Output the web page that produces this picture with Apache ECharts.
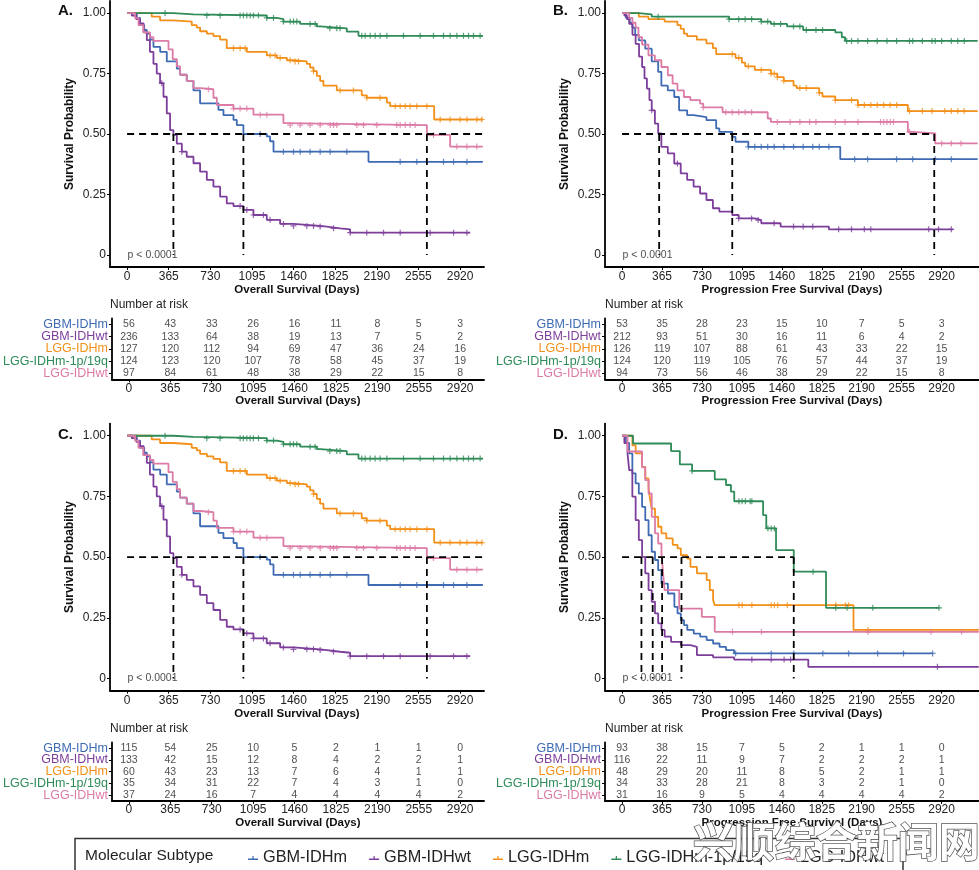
<!DOCTYPE html>
<html><head><meta charset="utf-8">
<script src="https://cdn.jsdelivr.net/npm/echarts@6/dist/echarts.min.js"></script>
<style>html,body{margin:0;padding:0;background:#fff}#c{width:979px;height:870px}</style>
</head><body><div id="c"></div>
<script>
// ---------- categories / ticks ----------
const groups = ['GBM-IDHm','GBM-IDHwt','LGG-IDHm','LGG-IDHm-1p/19q','LGG-IDHwt'];
const colors = ['#3E6BB3','#7D3E9B','#F39019','#2F8B58','#DC7BA6'];
const dayTicks = [0,365,730,1095,1460,1825,2190,2555,2920];
const probTicks = [0,0.25,0.5,0.75,1];

// ---------- Panel A (overall survival) : [day, survival] steps ----------
const A_gbmM = [[0,1],[85,0.98],[114,0.95],[150,0.93],[173,0.915],[202,0.89],[231,0.86],[290,0.84],[348,0.80],[436,0.77],[465,0.745],[523,0.72],[582,0.68],[640,0.627],[801,0.60],[845,0.578],[933,0.558],[962,0.537],[1020,0.50],[1225,0.49],[1254,0.47],[1284,0.427],[2117,0.385],[3120,0.385]];
const A_gbmWT = [[0,1],[41,0.99],[80,0.975],[114,0.957],[145,0.92],[173,0.888],[200,0.84],[231,0.79],[260,0.75],[289,0.71],[319,0.654],[348,0.585],[377,0.516],[406,0.496],[436,0.46],[480,0.427],[523,0.406],[582,0.379],[640,0.344],[699,0.31],[757,0.282],[816,0.241],[874,0.213],[933,0.202],[1020,0.186],[1108,0.165],[1225,0.145],[1342,0.128],[1459,0.12],[1693,0.117],[1751,0.11],[1868,0.106],[1956,0.092],[3009,0.092]];
const A_lggM = [[0,1],[216,0.985],[289,0.97],[406,0.965],[567,0.95],[611,0.94],[640,0.925],[700,0.915],[757,0.905],[816,0.89],[874,0.855],[1050,0.84],[1225,0.825],[1313,0.815],[1401,0.805],[1459,0.80],[1576,0.79],[1605,0.775],[1635,0.76],[1664,0.74],[1693,0.72],[1722,0.70],[1839,0.68],[2058,0.66],[2102,0.65],[2278,0.63],[2307,0.615],[2693,0.56],[3120,0.56]];
const A_lggCod = [[0,1],[406,0.995],[582,0.99],[1225,0.98],[1313,0.975],[1371,0.965],[1518,0.955],[1664,0.945],[1693,0.937],[1927,0.923],[2029,0.906],[3120,0.906]];
const A_lggWT = [[0,1],[70,0.98],[100,0.95],[143,0.92],[200,0.9],[231,0.885],[363,0.85],[400,0.81],[436,0.78],[465,0.745],[523,0.72],[582,0.69],[640,0.685],[757,0.65],[787,0.62],[933,0.605],[1108,0.58],[1371,0.545],[1401,0.537],[2629,0.496],[2833,0.448],[3120,0.448]];
// censor times
const A_gbmM_c = [1167,1371,1459,1518,1605,1693,1781,1927,2395,2541,2775,2863,2980];
const A_gbmWT_c = [304,480,991,1050,1108,1196,1254,1371,1459,1576,1635,1693,1810,1956,2102,2249,2395,2658,2863,2980];
const A_lggM_c = [933,991,1035,1254,1298,1342,1430,1474,1503,1635,1868,1985,2102,2219,2351,2395,2439,2482,2541,2629,2746,2833,2921,2980,3067,3111];
const A_lggCod_c = [333,699,816,991,1020,1050,1079,1108,1152,1225,1284,1371,1430,1459,1488,1605,1649,1778,1839,1868,2058,2088,2132,2175,2219,2278,2424,2570,2687,2775,2833,2892,2950,2994,3038,3096];
const A_lggWT_c = [713,933,991,1050,1167,1225,1430,1518,1605,1693,1781,1810,1839,2015,2073,2190,2365,2395,2439,2482,2526,2687,2892,2980,3067];
const A_medians = [406,1020,2629];
const A_medianEnd = 3130;
const A_risk = [
  [56,43,33,26,16,11,8,5,3],
  [236,133,64,38,19,13,7,5,2],
  [127,120,112,94,69,47,36,24,16],
  [124,123,120,107,78,58,45,37,19],
  [97,84,61,48,38,29,22,15,8]];

// ---------- Panel B (progression free survival) ----------
const B_gbmM = [[0,1],[35,0.98],[70,0.96],[94,0.94],[120,0.91],[153,0.887],[212,0.853],[271,0.80],[330,0.757],[359,0.70],[418,0.68],[477,0.653],[521,0.598],[595,0.578],[654,0.57],[771,0.557],[860,0.523],[889,0.509],[1007,0.488],[1037,0.468],[1154,0.447],[1994,0.396],[3250,0.396]];
const B_gbmWT = [[0,1],[21,0.99],[45,0.975],[65,0.956],[95,0.91],[124,0.873],[155,0.82],[183,0.777],[205,0.73],[227,0.688],[250,0.64],[271,0.598],[300,0.543],[330,0.502],[359,0.447],[418,0.42],[477,0.378],[536,0.337],[595,0.31],[654,0.282],[713,0.254],[771,0.227],[830,0.193],[889,0.179],[1007,0.165],[1066,0.151],[1213,0.144],[1272,0.131],[1449,0.117],[1890,0.106],[3024,0.106]];
const B_lggM = [[0,1],[153,0.985],[241,0.975],[389,0.965],[506,0.95],[536,0.935],[565,0.915],[595,0.905],[683,0.89],[771,0.875],[830,0.855],[860,0.83],[1037,0.815],[1095,0.795],[1125,0.78],[1213,0.765],[1360,0.75],[1419,0.735],[1478,0.72],[1567,0.70],[1596,0.69],[1802,0.67],[1832,0.655],[1949,0.64],[2155,0.62],[2612,0.595],[3250,0.595]];
const B_lggCod = [[0,1],[153,0.995],[271,0.985],[978,0.975],[1272,0.965],[1360,0.955],[1508,0.945],[1655,0.93],[1949,0.92],[2008,0.90],[2038,0.885],[3250,0.885]];
const B_lggWT = [[0,1],[65,0.98],[95,0.96],[124,0.94],[150,0.9],[183,0.87],[241,0.825],[300,0.805],[359,0.777],[418,0.743],[462,0.708],[506,0.68],[565,0.653],[624,0.64],[713,0.626],[742,0.61],[919,0.59],[1331,0.564],[1360,0.55],[2612,0.509],[2656,0.502],[2862,0.461],[3250,0.461]];
const B_gbmM_c = [1154,1213,1272,1331,1390,1478,1567,1655,1743,1802,1890,2126,2244,2509,2656,2862,3009];
const B_gbmWT_c = [271,506,1066,1184,1243,1390,1567,1655,1743,1979,2097,2214,2273,2803,2892,3009];
const B_lggM_c = [1007,1066,1154,1272,1360,1390,1419,1478,1625,1684,1802,1949,2097,2156,2214,2273,2332,2391,2450,2509,2627,2744,2833,2950,3009,3068,3127];
const B_lggCod_c = [330,978,1066,1125,1184,1272,1331,1390,1449,1567,1625,1684,1772,1832,2053,2097,2156,2244,2332,2421,2509,2627,2656,2744,2833,2862,2921,3009,3068,3127];
const B_lggWT_c = [742,948,1007,1066,1125,1184,1419,1537,1625,1714,1772,1949,2038,2156,2362,2391,2421,2450,2480,2627,2921,3009,3098];
const B_medians = [339,1007,2853];
const B_medianEnd = 2853;
const B_risk = [
  [53,35,28,23,15,10,7,5,3],
  [212,93,51,30,16,11,6,4,2],
  [126,119,107,88,61,43,33,22,15],
  [124,120,119,105,76,57,44,37,19],
  [94,73,56,46,38,29,22,15,8]];

// ---------- Panel C (overall survival, curves read as in A) ----------
const C_gbmM = A_gbmM, C_gbmWT = A_gbmWT, C_lggM = A_lggM, C_lggCod = A_lggCod, C_lggWT = A_lggWT;
const C_gbmM_c = A_gbmM_c, C_gbmWT_c = A_gbmWT_c, C_lggM_c = A_lggM_c, C_lggCod_c = A_lggCod_c, C_lggWT_c = A_lggWT_c;
const C_medians = [406,1020,2629];
const C_medianEnd = 3130;
const C_risk = [
  [115,54,25,10,5,2,1,1,0],
  [133,42,15,12,8,4,2,2,1],
  [60,43,23,13,7,6,4,1,1],
  [35,34,31,22,7,4,3,1,0],
  [37,24,16,7,4,4,4,4,2]];

// ---------- Panel D (progression free survival) ----------
const D_gbmM = [[0,1],[35,0.97],[65,0.927],[94,0.845],[124,0.804],[153,0.762],[183,0.707],[212,0.652],[242,0.59],[271,0.522],[301,0.488],[330,0.446],[360,0.391],[419,0.35],[478,0.295],[507,0.268],[537,0.24],[566,0.22],[596,0.20],[655,0.185],[714,0.172],[773,0.158],[832,0.144],[891,0.13],[950,0.117],[1024,0.103],[2838,0.103]];
const D_gbmWT = [[0,1],[21,0.97],[50,0.927],[65,0.858],[94,0.749],[124,0.652],[153,0.57],[183,0.501],[212,0.433],[242,0.364],[271,0.316],[301,0.268],[330,0.227],[360,0.20],[389,0.172],[448,0.151],[537,0.137],[625,0.13],[684,0.096],[832,0.087],[1024,0.078],[1702,0.048],[3260,0.048]];
const D_lggM = [[0,1],[94,0.96],[124,0.927],[183,0.872],[212,0.824],[242,0.783],[257,0.735],[271,0.70],[301,0.666],[330,0.625],[360,0.598],[404,0.577],[463,0.55],[507,0.536],[537,0.508],[596,0.494],[625,0.46],[684,0.433],[773,0.405],[802,0.364],[832,0.323],[847,0.302],[2115,0.20],[3260,0.20]];
const D_lggCod = [[0,1],[100,0.968],[448,0.937],[528,0.882],[640,0.855],[847,0.82],[950,0.797],[995,0.77],[1025,0.73],[1289,0.673],[1318,0.618],[1407,0.529],[1569,0.44],[1864,0.291],[2897,0.291]];
const D_lggWT = [[0,1],[50,0.935],[183,0.87],[212,0.817],[242,0.762],[271,0.666],[301,0.598],[330,0.556],[360,0.515],[375,0.433],[389,0.364],[522,0.288],[729,0.254],[847,0.192],[3260,0.192]];
const D_gbmM_c = [1038,1363,1569,1835,2071,2336,2572,2838];
const D_gbmWT_c = [1186,1363,1481,1540,2882];
const D_lggM_c = [1068,1097,1186,1363,1392,1422,1510,1953,2041,2071,2248];
const D_lggCod_c = [640,1068,1097,1127,1171,1186,1333,1363,1392,1746,1953,2056,2292,2897];
const D_lggWT_c = [1009,1274,2248,2823,3103];
const D_medians = [177,280,366,543,1569];
const D_medianEnd = 1569;
const D_risk = [
  [93,38,15,7,5,2,1,1,0],
  [116,22,11,9,7,2,2,2,1],
  [48,29,20,11,8,5,2,1,1],
  [34,33,28,21,8,3,2,1,0],
  [31,16,9,5,4,4,4,4,2]];

// ---------- layout ----------
const FONT = 'Liberation Sans, Arial, Helvetica, sans-serif';
const panels = [
  {label:'A.', xName:'Overall Survival (Days)', curves:[A_gbmM,A_gbmWT,A_lggM,A_lggCod,A_lggWT], cens:[A_gbmM_c,A_gbmWT_c,A_lggM_c,A_lggCod_c,A_lggWT_c], med:A_medians, medEnd:A_medianEnd, risk:A_risk,
   plot:{left:110, top:1, width:374, height:266}, table:{left:110, top:318.4, width:374, height:61}, xMin:-150, xMax:3130, lx:58, ly:11, ty:306},
  {label:'B.', xName:'Progression Free Survival (Days)', curves:[B_gbmM,B_gbmWT,B_lggM,B_lggCod,B_lggWT], cens:[B_gbmM_c,B_gbmWT_c,B_lggM_c,B_lggCod_c,B_lggWT_c], med:B_medians, medEnd:B_medianEnd, risk:B_risk,
   plot:{left:605, top:1, width:387, height:266}, table:{left:605, top:318.4, width:387, height:61}, xMin:-156, xMax:3262, lx:553, ly:11, ty:306},
  {label:'C.', xName:'Overall Survival (Days)', curves:[C_gbmM,C_gbmWT,C_lggM,C_lggCod,C_lggWT], cens:[C_gbmM_c,C_gbmWT_c,C_lggM_c,C_lggCod_c,C_lggWT_c], med:C_medians, medEnd:C_medianEnd, risk:C_risk,
   plot:{left:110, top:423.6, width:374, height:267}, table:{left:110, top:742.4, width:374, height:58.5}, xMin:-150, xMax:3130, lx:58, ly:435, ty:730},
  {label:'D.', xName:'Progression Free Survival (Days)', curves:[D_gbmM,D_gbmWT,D_lggM,D_lggCod,D_lggWT], cens:[D_gbmM_c,D_gbmWT_c,D_lggM_c,D_lggCod_c,D_lggWT_c], med:D_medians, medEnd:D_medianEnd, risk:D_risk,
   plot:{left:605, top:423.6, width:387, height:267}, table:{left:605, top:742.4, width:387, height:58.5}, xMin:-156, xMax:3262, lx:553, ly:435, ty:730}
];

function survAt(steps, t){ let s = steps[0][1]; for (const p of steps){ if (p[0] <= t) s = p[1]; else break; } return s; }
const plusPath = 'path://M0,2.4L6,2.4L6,3.6L0,3.6Z M2.4,0L3.6,0L3.6,6L2.4,6Z';
const axisBlack = {show:true, onZero:false, lineStyle:{color:'#000', width:1.8}};

const grid = [], xAxis = [], yAxis = [], series = [], graphic = [];
panels.forEach((P, i) => {
  const gp = 2*i, gt = 2*i+1;
  grid.push(Object.assign({containLabel:false}, P.plot));
  grid.push(Object.assign({containLabel:false}, P.table));
  const xCommon = {type:'value', min:P.xMin, max:P.xMax, splitLine:{show:false}, axisLine:axisBlack,
    axisTick:{show:true, customValues:dayTicks, length:3, lineStyle:{color:'#000', width:1}},
    axisLabel:{customValues:dayTicks, fontSize:12, color:'#222', fontFamily:FONT, formatter:v => String(v)},
    name:P.xName, nameLocation:'middle', nameTextStyle:{fontWeight:'bold', fontSize:11.5, color:'#111', fontFamily:FONT}};
  xAxis.push(Object.assign({}, xCommon, {gridIndex:gp, nameGap:16, axisLabel:Object.assign({}, xCommon.axisLabel, {margin:4})}));
  xAxis.push(Object.assign({}, xCommon, {gridIndex:gt, nameGap:15, axisLabel:Object.assign({}, xCommon.axisLabel, {margin:3})}));
  yAxis.push({type:'value', gridIndex:gp, min:-0.05, max:1.05, splitLine:{show:false}, axisLine:axisBlack,
    axisTick:{show:true, customValues:probTicks, length:3, lineStyle:{color:'#000', width:1}},
    axisLabel:{customValues:probTicks, margin:4, fontSize:12, color:'#222', fontFamily:FONT, formatter:v => v === 0 ? '0' : v.toFixed(2)},
    name:'Survival Probability', nameLocation:'middle', nameGap:34, nameTextStyle:{fontWeight:'bold', fontSize:12, color:'#111', fontFamily:FONT}});
  yAxis.push({type:'category', gridIndex:gt, data:groups, inverse:true, splitLine:{show:false}, axisLine:axisBlack,
    axisTick:{show:true, alignWithLabel:true, interval:0, length:3, lineStyle:{color:'#000', width:1}},
    axisLabel:{interval:0, margin:4, fontSize:12.5, fontFamily:FONT, color:(v, idx) => colors[groups.indexOf(v)]}});

  // survival curves
  P.curves.forEach((c, g) => {
    series.push({type:'line', name:groups[g], xAxisIndex:gp, yAxisIndex:gp, data:c, step:'end', showSymbol:false, symbol:'none',
      lineStyle:{color:colors[g], width:1.8}, itemStyle:{color:colors[g]}, z:3, silent:true});
  });
  // censor marks
  P.cens.forEach((cs, g) => {
    series.push({type:'scatter', xAxisIndex:gp, yAxisIndex:gp, data:cs.map(t => [t, survAt(P.curves[g], t)]),
      symbol:plusPath, symbolSize:6, itemStyle:{color:colors[g]}, z:4, silent:true});
  });
  // median lines
  const dash = {color:'#000', width:1.8, type:[7,5]};
  series.push({type:'line', xAxisIndex:gp, yAxisIndex:gp, data:[[0,0.5],[P.medEnd,0.5]], showSymbol:false, symbol:'none', lineStyle:dash, z:5, silent:true});
  P.med.forEach(m => {
    series.push({type:'line', xAxisIndex:gp, yAxisIndex:gp, data:[[m,0.5],[m,0]], showSymbol:false, symbol:'none', lineStyle:dash, z:5, silent:true});
  });
  // p-value
  series.push({type:'scatter', xAxisIndex:gp, yAxisIndex:gp, data:[[0,0]], symbolSize:1, itemStyle:{color:'rgba(0,0,0,0)'},
    label:{show:true, position:'right', distance:0, formatter:'p < 0.0001', fontSize:10.5, color:'#222', fontFamily:FONT}, z:6, silent:true});
  // risk table numbers
  P.risk.forEach((row, g) => {
    series.push({type:'scatter', xAxisIndex:gt, yAxisIndex:gt, data:dayTicks.map((t,k) => [t, groups[g], row[k]]),
      symbolSize:1, itemStyle:{color:'rgba(0,0,0,0)'},
      label:{show:true, position:'inside', formatter:p => String(p.value[2]), fontSize:10.5, color:'#222', fontFamily:FONT}, silent:true});
  });
  // panel label and table title
  graphic.push({type:'text', left:P.lx, top:P.ly-8, style:{text:P.label, font:'bold 15px '+FONT, fill:'#111'}});
  graphic.push({type:'text', left:P.table.left, top:P.ty-7, style:{text:'Number at risk', font:'12px '+FONT, fill:'#222'}});
});

// legend frame & title
graphic.push({type:'rect', shape:{x:75, y:838.5, width:828, height:45}, style:{fill:'none', stroke:'#333', lineWidth:1.5}, z:1});
graphic.push({type:'text', left:85, top:848, style:{text:'Molecular Subtype', font:'15.5px '+FONT, fill:'#222'}, z:2});
// watermark
graphic.push({type:'text', left:692, top:820, style:{text:'兴顺综合新闻网', font:'bold 41px "Noto Sans CJK SC"', fill:'#fff', stroke:'#555', lineWidth:1.5}, z:100});

const option = {
  animation:false,
  textStyle:{fontFamily:FONT},
  grid, xAxis, yAxis, series, graphic,
  legend:{data:groups, left:243, top:845, itemWidth:10, itemHeight:8, itemGap:22, selectedMode:false,
    icon:'path://M0,5L10,5L10,6.3L0,6.3Z M4.4,2.5L5.6,2.5L5.6,6.3L4.4,6.3Z',
    textStyle:{fontSize:16.3, color:'#222', fontFamily:FONT}}
};
const chart = echarts.init(document.getElementById('c'), null, {renderer:'canvas'});
chart.setOption(option);
</script></body></html>
